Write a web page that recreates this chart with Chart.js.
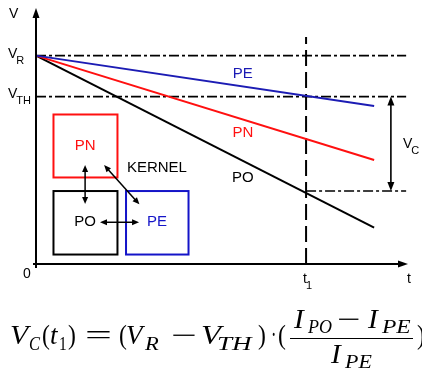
<!DOCTYPE html>
<html><head><meta charset="utf-8">
<script src="https://cdn.jsdelivr.net/npm/chart.js@4.4.0/dist/chart.umd.min.js"></script>
<style>
html,body{margin:0;padding:0;background:#fff;overflow:hidden;}
#wrap{position:relative;width:422px;height:372px;overflow:hidden;}
#c{position:absolute;left:0;top:0;}
.f{position:absolute;white-space:nowrap;font-family:"Liberation Serif","DejaVu Serif",serif;color:#000;line-height:1;transform-origin:0 0;}
.bar{position:absolute;background:#000;}
</style></head><body>
<div id="wrap"><canvas id="c" width="422" height="372"></canvas><div id="formula"></div></div>
<script>
// ---- data ----
const timePoints = [0, 9.09];          // start / end of the discharge curves
const vPE = [8.14, 6.17];
const vPN = [8.14, 4.06];
const vPO = [8.14, 1.42];
const levelNames = ['R', 'TH'];         // V_R , V_TH
const levelValues = [8.14, 6.54];
const t1Value = 7.26;
const vcBottom = 2.85;
const xTickLabels = ['0', 't', 't'];   // origin, t1, axis name

// ---- layout (data-space positions of decorations) ----
const L = {
  refEnd: 9.95, t1Top: 8.87, vcArrowX: 9.54,
  boxes: [
    {x0:0.47, x1:2.19, y0:5.84, y1:3.38, c:'#ff1010', text:'PN', tx:1.32, ty:4.61},
    {x0:0.47, x1:2.19, y0:2.85, y1:0.37, c:'#000000', text:'PO', tx:1.32, ty:1.64},
    {x0:2.42, x1:4.10, y0:2.85, y1:0.37, c:'#1414c8', text:'PE', tx:3.25, ty:1.64}
  ],
  arrows: [
    [1.32, 3.87, 1.32, 2.34],
    [1.72, 1.63, 2.77, 1.63],
    [1.83, 3.87, 2.78, 2.33]
  ],
  kernel: {x:3.25, y:3.75},
  lineLabels: [
    {t:'PE', x:5.56, y:7.43, c:'#1a1ab4'},
    {t:'PN', x:5.56, y:5.12, c:'#ff1010'},
    {t:'PO', x:5.56, y:3.36, c:'#000000'}
  ]
};

const BLUE = '#1c1cb4', RED = '#ff1010';
const pts = (xs, ys) => xs.map((v, i) => ({x: v, y: ys[i]}));
const dashDot = [10, 3, 3, 3];

const datasets = [
  {label:'PE', data: pts(timePoints, vPE), borderColor: BLUE, borderWidth: 2},
  {label:'PN', data: pts(timePoints, vPN), borderColor: RED, borderWidth: 2},
  {label:'PO', data: pts(timePoints, vPO), borderColor: '#000', borderWidth: 2},
  {label:'VR', data: [{x:0, y:levelValues[0]}, {x:L.refEnd, y:levelValues[0]}], borderColor:'#000', borderWidth:1.6, borderDash: dashDot},
  {label:'VTH', data: [{x:0, y:levelValues[1]}, {x:L.refEnd, y:levelValues[1]}], borderColor:'#000', borderWidth:1.6, borderDash: dashDot},
  {label:'t1', data: [{x:t1Value, y:0}, {x:t1Value, y:L.t1Top}], borderColor:'#000', borderWidth:2, borderDash:[16,6]},
  {label:'VC', data: [{x:t1Value, y:vcBottom}, {x:L.refEnd, y:vcBottom}], borderColor:'#000', borderWidth:1.6, borderDash: dashDot}
].map(d => Object.assign({showLine:true, pointRadius:0, fill:false, clip:false, tension:0}, d));

function head(ctx, tx, ty, fx, fy, len, half) {
  const a = Math.atan2(ty - fy, tx - fx);
  ctx.beginPath();
  ctx.moveTo(tx, ty);
  ctx.lineTo(tx - len*Math.cos(a) + half*Math.sin(a), ty - len*Math.sin(a) - half*Math.cos(a));
  ctx.lineTo(tx - len*Math.cos(a) - half*Math.sin(a), ty - len*Math.sin(a) + half*Math.cos(a));
  ctx.closePath(); ctx.fill();
}
function dblArrow(ctx, x0, y0, x1, y1, len, half, lw) {
  const a = Math.atan2(y1 - y0, x1 - x0);
  ctx.lineWidth = lw;
  ctx.beginPath();
  ctx.moveTo(x0 + (len-1)*Math.cos(a), y0 + (len-1)*Math.sin(a));
  ctx.lineTo(x1 - (len-1)*Math.cos(a), y1 - (len-1)*Math.sin(a));
  ctx.stroke();
  head(ctx, x1, y1, x0, y0, len, half);
  head(ctx, x0, y0, x1, y1, len, half);
}

const SANS = '"Liberation Sans", Arial, sans-serif';
const deco = {
  id: 'deco',
  afterDatasetsDraw(chart) {
    const ctx = chart.ctx, xs = chart.scales.x, ys = chart.scales.y;
    const px = v => xs.getPixelForValue(v), py = v => ys.getPixelForValue(v);
    ctx.save();
    ctx.strokeStyle = '#000'; ctx.fillStyle = '#000';
    // axes
    ctx.lineWidth = 2;
    ctx.beginPath(); ctx.moveTo(px(0), py(0) + 4); ctx.lineTo(px(0), py(10) + 8); ctx.stroke();
    head(ctx, px(0), py(10), px(0), py(0), 10, 3.5);
    ctx.beginPath(); ctx.moveTo(px(0) - 3, py(0)); ctx.lineTo(px(10) - 8, py(0)); ctx.stroke();
    head(ctx, px(10), py(0), px(0), py(0), 10, 3.5);
    // VC arrow
    dblArrow(ctx, px(L.vcArrowX), py(levelValues[1]), px(L.vcArrowX), py(vcBottom), 9, 3.5, 1.6);
    // boxes
    ctx.lineWidth = 2;
    L.boxes.forEach(b => {
      ctx.strokeStyle = b.c;
      ctx.strokeRect(px(b.x0), py(b.y0), px(b.x1) - px(b.x0), py(b.y1) - py(b.y0));
    });
    ctx.strokeStyle = '#000'; ctx.fillStyle = '#000';
    L.arrows.forEach(a => dblArrow(ctx, px(a[0]), py(a[1]), px(a[2]), py(a[3]), 7, 3, 1.5));
    // texts
    ctx.textAlign = 'center'; ctx.textBaseline = 'middle';
    ctx.font = '15px ' + SANS;
    L.boxes.forEach(b => { ctx.fillStyle = b.c; ctx.fillText(b.text, px(b.tx), py(b.ty)); });
    ctx.fillStyle = '#000';
    ctx.fillText('KERNEL', px(L.kernel.x), py(L.kernel.y));
    L.lineLabels.forEach(l => { ctx.fillStyle = l.c; ctx.fillText(l.t, px(l.x), py(l.y)); });
    // axis labels
    ctx.fillStyle = '#000';
    ctx.textAlign = 'left'; ctx.textBaseline = 'alphabetic';
    ctx.font = '14px ' + SANS;
    ctx.fillText('V', 9, 18);
    const subL = (main, sub, x, yb) => {
      ctx.font = '14px ' + SANS; ctx.fillText(main, x, yb);
      const w = ctx.measureText(main).width;
      ctx.font = '11px ' + SANS; ctx.fillText(sub, x + w - 1, yb + 6);
    };
    subL('V', levelNames[0], 8, py(levelValues[0]) + 2);
    subL('V', levelNames[1], 8, py(levelValues[1]) + 1);
    ctx.font = '14px ' + SANS;
    ctx.textAlign = 'center';
    ctx.fillText(xTickLabels[0], 27, py(0) + 14);
    ctx.fillText(xTickLabels[2], px(10) + 1, py(0) + 19);
    ctx.textAlign = 'left';
    subL(xTickLabels[1], '1', px(t1Value) - 3, py(0) + 19);
    subL('V', 'C', px(L.vcArrowX) + 12, py((levelValues[1] + vcBottom) / 2) + 4);
    ctx.restore();
  }
};

new Chart(document.getElementById('c'), {
  type: 'scatter',
  data: {datasets},
  options: {
    responsive: false, animation: false, devicePixelRatio: 1,
    layout: {padding: {left: 36, right: 14, top: 8, bottom: 108}},
    plugins: {legend: {display: false}, tooltip: {enabled: false}},
    scales: {
      x: {type: 'linear', min: 0, max: 10, display: false},
      y: {type: 'linear', min: 0, max: 10, display: false}
    }
  },
  plugins: [deco]
});

// ---- formula as real text ----
const F = document.getElementById('formula');
const mctx = document.createElement('canvas').getContext('2d');
const SERIF = '"Liberation Serif","DejaVu Serif",serif';
// [text, inkLeft, inkRight, baseline, size, italic]
const pieces = [
  ['V', 11, 32, 345, 27, 1], ['C', 30, 41, 350, 18, 1], ['(', 43, 50, 345, 27, 0],
  ['t', 51, 59, 345, 27, 1], ['1', 60, 66, 350, 18, 0], [')', 68, 75, 345, 27, 0],
  ['=', 87, 110, 345, 27, 0], ['(', 120, 127, 345, 27, 0], ['V', 127, 146, 345, 27, 1],
  ['R', 144, 159, 350, 18, 1], ['\u2212', 173, 195, 345, 27, 0], ['V', 202, 225, 345, 27, 1],
  ['TH', 218, 253, 350, 19, 1], [')', 258, 265, 345, 27, 0], ['\u00B7', 272, 275, 345, 27, 0],
  ['(', 279, 286, 345, 27, 0],
  ['I', 293, 306, 329, 27, 1], ['PO', 307, 332, 333, 18, 1], ['\u2212', 339, 359, 329, 27, 0],
  ['I', 367, 380, 329, 27, 1], ['PE', 381, 411, 333, 18, 1],
  ['I', 330, 343, 364, 27, 1], ['PE', 344, 372, 368, 18, 1],
  [')', 417, 424, 345, 27, 0]
];
pieces.forEach(p => {
  const [t, x0, x1, bl, size, it] = p;
  const font = (it ? 'italic ' : '') + size + 'px ' + SERIF;
  mctx.font = font;
  const m = mctx.measureText(t);
  const inkL = m.actualBoundingBoxLeft, inkW = m.actualBoundingBoxLeft + m.actualBoundingBoxRight;
  const s = inkW > 0 ? (x1 - x0) / inkW : 1;
  const el = document.createElement('span');
  el.className = 'f';
  el.textContent = t;
  el.style.font = font;
  el.style.lineHeight = size + 'px';
  el.style.left = (x0 + inkL * s) + 'px';
  el.style.top = (bl - 0.8375 * size) + 'px';
  el.style.transform = 'scaleX(' + s.toFixed(3) + ')';
  F.appendChild(el);
});
const bar = document.createElement('div');
bar.className = 'bar';
bar.style.left = '290px'; bar.style.top = '338px'; bar.style.width = '123px'; bar.style.height = '1.2px';
F.appendChild(bar);
</script>
</body></html>
